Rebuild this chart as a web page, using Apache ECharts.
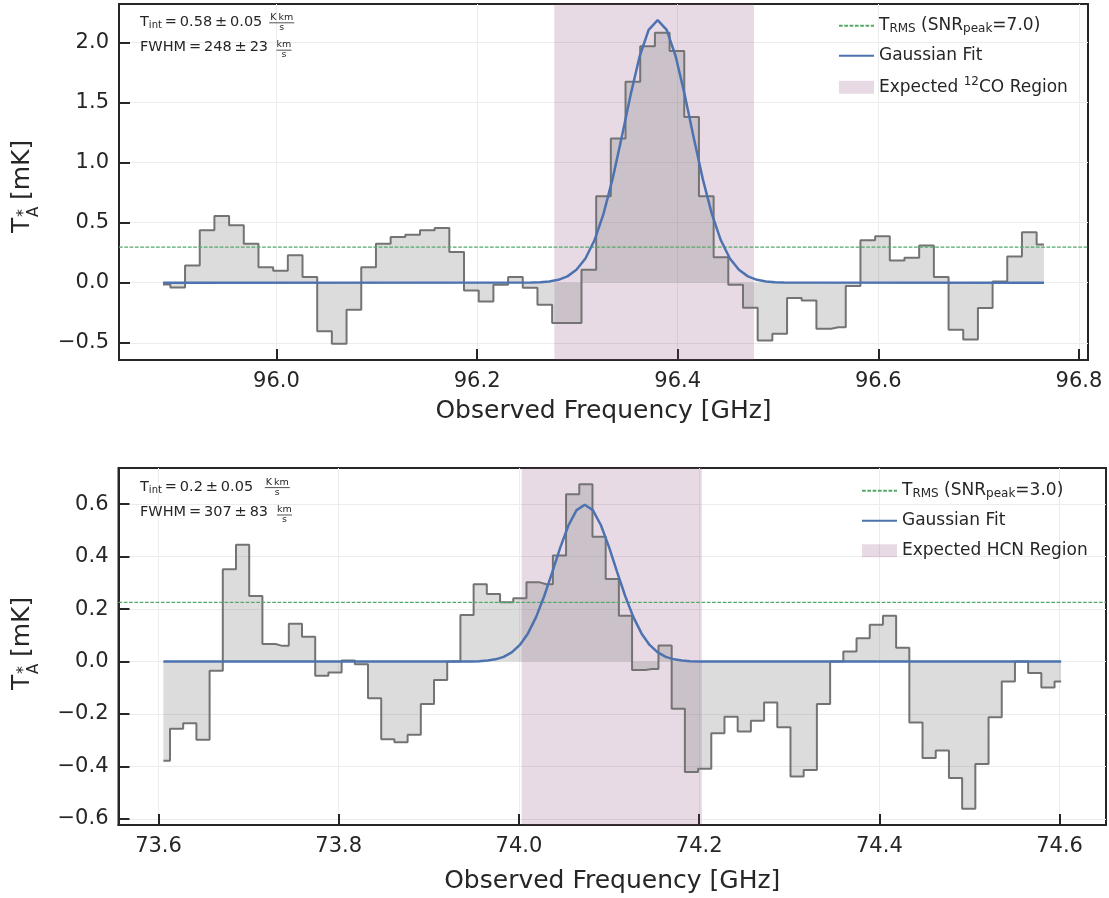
<!DOCTYPE html>
<html>
<head>
<meta charset="utf-8">
<script src="https://cdn.jsdelivr.net/npm/echarts@6/dist/echarts.min.js"></script>
<style>
  html, body { margin: 0; padding: 0; background: #ffffff; }
  #chart { width: 1109px; height: 898px; }
</style>
</head>
<body>
<div id="chart"></div>
<script>
// ---- 12CO spectrum (upper panel) ----
const coFreq = [
  95.8869, 95.9015, 95.9162, 95.9308, 95.9454, 95.9601, 95.9747, 95.9894, 96.0040, 96.0186,
  96.0333, 96.0479, 96.0625, 96.0772, 96.0918, 96.1065, 96.1211, 96.1357, 96.1504, 96.1650,
  96.1796, 96.1943, 96.2089, 96.2236, 96.2382, 96.2528, 96.2675, 96.2821, 96.2967, 96.3114,
  96.3260, 96.3406, 96.3553, 96.3699, 96.3846, 96.3992, 96.4138, 96.4285, 96.4431, 96.4577,
  96.4724, 96.4870, 96.5017, 96.5163, 96.5309, 96.5456, 96.5602, 96.5748, 96.5895, 96.6041,
  96.6187, 96.6334, 96.6480, 96.6627, 96.6773, 96.6919, 96.7066, 96.7212, 96.7358, 96.7505,
  96.7651
];
const coTemp = [
  -0.015, -0.040, 0.144, 0.436, 0.555, 0.478, 0.325, 0.130, 0.100, 0.228,
  0.047, -0.403, -0.508, -0.225, 0.130, 0.325, 0.380, 0.400, 0.436, 0.455,
  0.255, -0.064, -0.156, -0.017, 0.047, -0.042, -0.183, -0.336, -0.336, 0.108,
  0.719, 1.200, 1.672, 1.969, 2.080, 1.928, 1.380, 0.719, 0.213, -0.017,
  -0.208, -0.480, -0.425, -0.128, -0.147, -0.383, -0.370, -0.028, 0.353, 0.386,
  0.186, 0.208, 0.310, 0.047, -0.392, -0.472, -0.210, 0.011, 0.219, 0.420,
  0.319
];
const coFitFreq = [
  95.8869,
  96.254, 96.263, 96.272, 96.281, 96.290, 96.299, 96.308, 96.317, 96.326, 96.335,
  96.344, 96.353, 96.362, 96.371, 96.380, 96.389, 96.398, 96.407, 96.416, 96.425,
  96.434, 96.443, 96.452, 96.461, 96.470, 96.479, 96.488, 96.497, 96.506,
  96.7651
];
const coFitTemp = [
  0,
  0.0015, 0.0041, 0.0103, 0.0243, 0.0530, 0.1074, 0.2022, 0.3532, 0.5728, 0.8623,
  1.2051, 1.5635, 1.8830, 2.1052, 2.1850, 2.1052, 1.8830, 1.5635, 1.2051, 0.8623,
  0.5728, 0.3532, 0.2022, 0.1074, 0.0530, 0.0243, 0.0103, 0.0041, 0.0015,
  0
];
const coRms = 0.297;
const coRegion = [96.277, 96.476];
const coXRange = [95.843, 96.809];
const coYRange = [-0.643, 2.320];
const coTint = ['0.58', '0.05'];
const coFwhm = ['248', '23'];
const coSnr = '7.0';

// ---- HCN spectrum (lower panel) ----
const hcnFreq = [
  73.6054, 73.6201, 73.6347, 73.6494, 73.6640, 73.6787, 73.6933, 73.7080, 73.7226, 73.7373,
  73.7519, 73.7666, 73.7812, 73.7959, 73.8105, 73.8252, 73.8398, 73.8545, 73.8691, 73.8838,
  73.8984, 73.9131, 73.9277, 73.9424, 73.9570, 73.9717, 73.9864, 74.0010, 74.0157, 74.0303,
  74.0450, 74.0596, 74.0743, 74.0889, 74.1036, 74.1182, 74.1329, 74.1475, 74.1622, 74.1768,
  74.1915, 74.2061, 74.2208, 74.2354, 74.2501, 74.2647, 74.2794, 74.2940, 74.3087, 74.3233,
  74.3380, 74.3527, 74.3673, 74.3820, 74.3966, 74.4113, 74.4259, 74.4406, 74.4552, 74.4699,
  74.4845, 74.4992, 74.5138, 74.5285, 74.5431, 74.5578, 74.5724, 74.5871, 74.6017
];
const hcnTemp = [
  -0.378, -0.256, -0.235, -0.298, -0.035, 0.352, 0.445, 0.250, 0.067, 0.060,
  0.144, 0.095, -0.054, -0.042, 0.004, -0.010, -0.140, -0.296, -0.308, -0.279,
  -0.162, -0.070, 0.000, 0.178, 0.295, 0.258, 0.226, 0.241, 0.302, 0.295,
  0.404, 0.638, 0.676, 0.476, 0.315, 0.175, -0.032, -0.028, 0.061, -0.180,
  -0.421, -0.409, -0.273, -0.210, -0.267, -0.226, -0.156, -0.250, -0.438, -0.413,
  -0.162, 0.000, 0.038, 0.089, 0.140, 0.175, 0.053, -0.232, -0.368, -0.339,
  -0.444, -0.561, -0.390, -0.212, -0.076, 0.000, -0.044, -0.099, -0.076
];
const hcnFitFreq = [
  73.6054,
  73.947, 73.956, 73.965, 73.974, 73.983, 73.992, 74.001, 74.010, 74.019, 74.028,
  74.037, 74.046, 74.055, 74.064, 74.073, 74.082, 74.091, 74.100, 74.109, 74.118,
  74.127, 74.136, 74.145, 74.154, 74.163, 74.172, 74.181, 74.190, 74.199,
  74.6017
];
const hcnFitTemp = [
  0,
  0.0006, 0.0016, 0.0039, 0.0086, 0.0180, 0.0350, 0.0635, 0.1074, 0.1694, 0.2491,
  0.3414, 0.4363, 0.5198, 0.5774, 0.5980, 0.5774, 0.5198, 0.4363, 0.3414, 0.2491,
  0.1694, 0.1074, 0.0635, 0.0350, 0.0180, 0.0086, 0.0039, 0.0016, 0.0006,
  0
];
const hcnRms = 0.226;
const hcnRegion = [74.003, 74.203];
const hcnXRange = [73.5556, 74.6515];
const hcnYRange = [-0.623, 0.738];
const hcnTint = ['0.2', '0.05'];
const hcnFwhm = ['307', '83'];
const hcnSnr = '3.0';

// ---- styling ----
const FONT = 'DejaVu Sans';
const INK = '#262626';
const GRID_LINE = '#ececec';
const STEP_LINE = '#737373';
const STEP_FILL = 'rgba(128,128,128,0.4)';
const FIT_BLUE = '#4c72b0';
const RMS_GREEN = '#55a868';
const REGION = 'rgba(140,70,120,0.2)';
const TS = '\u2009'; // thin space

const coRmsName = 'T_RMS (SNR_peak=' + coSnr + ')';
const hcnRmsName = 'T_RMS (SNR_peak=' + hcnSnr + ')';
const fitName = 'Gaussian Fit';
const coRegionName = 'Expected 12CO Region';
const hcnRegionName = 'Expected HCN Region';

const legendText = {};
legendText[coRmsName] = '{m|T}{sub|RMS}{m| (SNR}{sub|peak}{m|=' + coSnr + ')}';
legendText[hcnRmsName] = '{m|T}{sub|RMS}{m| (SNR}{sub|peak}{m|=' + hcnSnr + ')}';
legendText[fitName] = '{m|Gaussian Fit}';
legendText[coRegionName] = '{m|Expected }{sup|12}{m|CO Region}';
legendText[hcnRegionName] = '{m|Expected HCN Region}';

const legendRich = {
  m: { fontSize: 17, lineHeight: 20, color: INK, fontFamily: FONT },
  sub: { fontSize: 12, lineHeight: 20, color: INK, fontFamily: FONT, padding: [7, 0, 0, 0] },
  sup: { fontSize: 12, lineHeight: 20, color: INK, fontFamily: FONT, padding: [0, 0, 11, 0] }
};

const tickFmt = v => (Math.abs(v) < 1e-9 ? '0.0' : v.toFixed(1).replace('-', '\u2212'));

function makeXAxis(gridIndex, range, nameGap) {
  return {
    type: 'value', gridIndex, min: range[0], max: range[1], splitNumber: 5,
    name: 'Observed Frequency [GHz]', nameLocation: 'middle', nameGap,
    nameTextStyle: { fontSize: 25, color: INK, fontFamily: FONT },
    axisLine: { show: true, onZero: false, lineStyle: { color: INK, width: 2 } },
    axisTick: { show: true, inside: true, length: 11, lineStyle: { color: INK, width: 2 } },
    axisLabel: { fontSize: 21, color: INK, fontFamily: FONT, margin: 11, formatter: tickFmt,
                 showMinLabel: false, showMaxLabel: false },
    splitLine: { show: true, showMinLine: false, showMaxLine: false, lineStyle: { color: GRID_LINE, width: 1 } }
  };
}
function makeYAxis(gridIndex, range, splitNumber) {
  return {
    type: 'value', gridIndex, min: range[0], max: range[1], splitNumber,
    axisLine: { show: true, onZero: false, lineStyle: { color: INK, width: 2 } },
    axisTick: { show: true, inside: true, length: 11, lineStyle: { color: INK, width: 2 } },
    axisLabel: { fontSize: 21, color: INK, fontFamily: FONT, margin: 10, formatter: tickFmt,
                 showMinLabel: false, showMaxLabel: false },
    splitLine: { show: true, showMinLine: false, showMaxLine: false, lineStyle: { color: GRID_LINE, width: 1 } }
  };
}

function pairs(xs, ys) { return xs.map((x, i) => [x, ys[i]]); }

function panelSeries(idx, freq, temp, fitF, fitT, rms, rmsName, xRange, region, regionName) {
  return [
    {
      name: regionName, type: 'line', xAxisIndex: idx, yAxisIndex: idx, data: [], z: 1,
      symbol: 'none', itemStyle: { color: REGION }, lineStyle: { color: REGION },
      markArea: { silent: true, itemStyle: { color: REGION }, label: { show: false },
                  data: [[{ xAxis: region[0] }, { xAxis: region[1] }]] }
    },
    {
      name: 'spectrum' + idx, type: 'line', xAxisIndex: idx, yAxisIndex: idx, z: 2,
      data: pairs(freq, temp), step: 'middle', symbol: 'none', silent: true,
      lineStyle: { color: STEP_LINE, width: 2 },
      areaStyle: { color: STEP_FILL, origin: 0 }
    },
    {
      // noise level drawn across the full frequency window
      name: rmsName, type: 'line', xAxisIndex: idx, yAxisIndex: idx, z: 3,
      data: [[xRange[0], rms], [xRange[1], rms]], symbol: 'none', silent: true,
      itemStyle: { color: RMS_GREEN },
      lineStyle: { color: RMS_GREEN, width: 1.2, type: [3.7, 1.6] }
    },
    {
      name: fitName, type: 'line', xAxisIndex: idx, yAxisIndex: idx, z: 4,
      data: pairs(fitF, fitT), symbol: 'none', silent: true,
      itemStyle: { color: FIT_BLUE }, lineStyle: { color: FIT_BLUE, width: 2.5 }
    }
  ];
}

function makeLegend(left, top, names) {
  return {
    orient: 'vertical', left, top, padding: 0, itemGap: 10,
    itemWidth: 35, itemHeight: 13, selectedMode: false,
    data: [
      { name: names[0], itemStyle: { opacity: 0 } },
      { name: names[1], itemStyle: { opacity: 0 } },
      { name: names[2], icon: 'rect' }
    ],
    formatter: name => legendText[name],
    textStyle: { fontSize: 17, lineHeight: 20, color: INK, fontFamily: FONT, rich: legendRich }
  };
}

// ---- text built from graphic elements (sub/superscripts, fractions) ----
function textEl(x, y, text, size, align) {
  return { type: 'text', x, y, z: 100, silent: true,
    style: { text, fontSize: size, fontFamily: FONT, fill: INK, align: align || 'left', verticalAlign: 'middle' } };
}
function richEl(x, y, text) {
  return { type: 'text', x, y, z: 100, silent: true,
    style: { text, fontFamily: FONT, fill: INK, align: 'left', verticalAlign: 'middle',
      rich: {
        m: { fontSize: 14.5, fontFamily: FONT, color: INK },
        s: { fontSize: 10, fontFamily: FONT, color: INK, padding: [7, 0, 0, 0] }
      } } };
}
function fraction(cx, barY, halfW, num, den) {
  return [
    textEl(cx, barY - 5.2, num, 9.5, 'center'),
    { type: 'line', z: 100, silent: true,
      shape: { x1: cx - halfW, y1: barY, x2: cx + halfW, y2: barY },
      style: { stroke: INK, lineWidth: 0.8 } },
    textEl(cx, barY + 4.6, den, 9.5, 'center')
  ];
}
function yTitle(x, y) {
  return {
    type: 'group', x, y, rotation: Math.PI / 2, silent: true,
    children: [
      textEl(0, 0, 'T', 25),
      textEl(16, 1, '*', 16),
      textEl(16, 11.5, 'A', 15),
      textEl(33, 0, '[mK]', 25)
    ]
  };
}
function annotation(yTop, tint, fwhm, frac1X, frac2X) {
  return [
    richEl(140, yTop, '{m|T}{s|int}{m|' + TS + '=' + TS + tint[0] + TS + '\u00b1' + TS + tint[1] + '}'),
    ...fraction(frac1X, yTop + 0.6, 12.5, 'K' + TS + 'km', 's'),
    richEl(140, yTop + 25.4, '{m|FWHM' + TS + '=' + TS + fwhm[0] + TS + '\u00b1' + TS + fwhm[1] + '}'),
    ...fraction(frac2X, yTop + 28, 7.5, 'km', 's')
  ];
}

const chart = echarts.init(document.getElementById('chart'), null, { renderer: 'canvas' });
chart.setOption({
  animation: false,
  backgroundColor: '#ffffff',
  textStyle: { fontFamily: FONT },
  grid: [
    { left: 119, top: 4, width: 969, height: 356, show: true, borderColor: INK, borderWidth: 2, backgroundColor: 'transparent' },
    { left: 118.5, top: 468, width: 987.5, height: 357, show: true, borderColor: INK, borderWidth: 2, backgroundColor: 'transparent' }
  ],
  xAxis: [makeXAxis(0, coXRange, 39), makeXAxis(1, hcnXRange, 44)],
  yAxis: [makeYAxis(0, coYRange, 5), makeYAxis(1, hcnYRange, 6)],
  legend: [
    makeLegend(838, 15.7, [coRmsName, fitName, coRegionName]),
    makeLegend(861, 480.7, [hcnRmsName, fitName, hcnRegionName])
  ],
  series: [
    ...panelSeries(0, coFreq, coTemp, coFitFreq, coFitTemp, coRms, coRmsName, coXRange, coRegion, coRegionName),
    ...panelSeries(1, hcnFreq, hcnTemp, hcnFitFreq, hcnFitTemp, hcnRms, hcnRmsName, hcnXRange, hcnRegion, hcnRegionName)
  ],
  graphic: [
    yTitle(22.5, 233),
    yTitle(22.5, 690),
    ...annotation(22.2, coTint, coFwhm, 281.7, 284),
    ...annotation(487, hcnTint, hcnFwhm, 277.3, 284.5)
  ]
});
</script>
</body>
</html>
